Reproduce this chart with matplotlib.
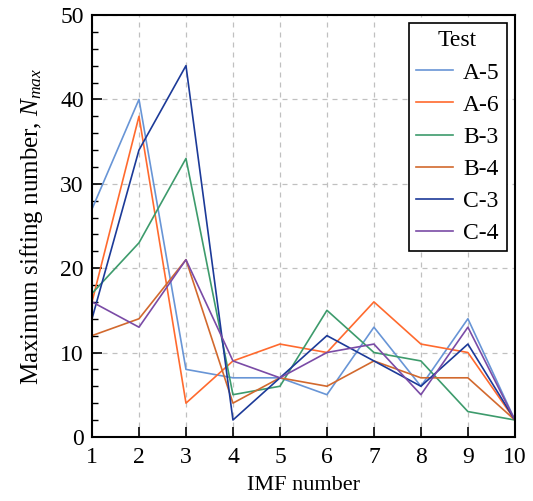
import matplotlib

matplotlib.use("Agg")
import matplotlib.pyplot as plt
from matplotlib.ticker import MultipleLocator

imf = [1, 2, 3, 4, 5, 6, 7, 8, 9, 10]
a5 = [27, 40, 8, 7, 7, 5, 13, 6, 14, 2]
a6 = [16, 38, 4, 9, 11, 10, 16, 11, 10, 2]
b3 = [17, 23, 33, 5, 6, 15, 10, 9, 3, 2]
b4 = [12, 14, 21, 4, 7, 6, 9, 7, 7, 2]
c3 = [14, 34, 44, 2, 7, 12, 9, 6, 11, 2]
c4 = [16, 13, 21, 9, 7, 10, 11, 5, 13, 2]
labels = ["A-5", "A-6", "B-3", "B-4", "C-3", "C-4"]

colors = ["#6895d6", "#ff6a2e", "#3d9b6c", "#d2692e", "#1c3a98", "#7a4ba6"]

plt.rcParams["font.family"] = ["Liberation Serif", "DejaVu Serif"]
plt.rcParams["mathtext.fontset"] = "custom"
plt.rcParams["mathtext.it"] = "Liberation Serif:italic"
plt.rcParams["mathtext.rm"] = "Liberation Serif"

fig = plt.figure(figsize=(5.33, 5.01), dpi=100)
ax = fig.add_axes([0.1726, 0.128, 0.7934, 0.842])

for ys, lab, col in zip([a5, a6, b3, b4, c3, c4], labels, colors):
    ax.plot(imf, ys, color=col, lw=1.2, label=lab)

ax.set_xlim(1, 10)
ax.set_ylim(0, 50)
ax.xaxis.set_major_locator(MultipleLocator(1))
ax.yaxis.set_major_locator(MultipleLocator(10))
ax.yaxis.set_minor_locator(MultipleLocator(2))
ax.grid(True, which="major", ls=(0, (4, 4)), color="#c0c0c0", lw=0.9)
ax.set_axisbelow(True)
ax.tick_params(axis="both", which="major", direction="in", length=7, width=1.2,
               labelsize=17, top=False, right=False)
ax.tick_params(axis="y", which="minor", direction="in", length=4, width=1.0, right=False)
ax.tick_params(axis="x", which="major", pad=7)
ax.tick_params(axis="y", which="major", pad=6)
for sp in ax.spines.values():
    sp.set_linewidth(1.5)

ax.set_xlabel("IMF number", fontsize=16, labelpad=6)
ax.set_ylabel("Maximum sifting number, $N_{max}$", fontsize=18, labelpad=11)

leg = ax.legend(title="Test", loc="upper right", fontsize=17, title_fontsize=17,
                fancybox=False, framealpha=1, edgecolor="black",
                handlelength=1.6, handletextpad=0.4, borderaxespad=0.35,
                labelspacing=0.45, borderpad=0.3)
leg.get_frame().set_linewidth(1.2)

fig.savefig("out.png", dpi=100, facecolor="white")
